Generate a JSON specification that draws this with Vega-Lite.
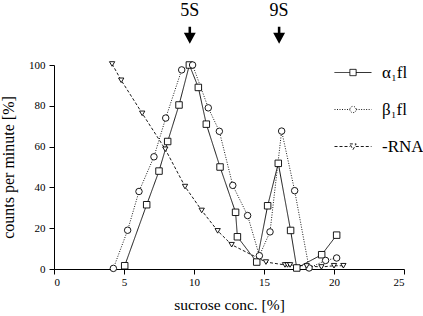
{
  "$schema": "https://vega.github.io/schema/vega-lite/v6.json",
  "width": 350,
  "height": 204,
  "autosize": {"type": "none"},
  "padding": {"left": 54, "top": 65, "right": 19, "bottom": 47},
  "background": "white",
  "config": {
    "view": {"stroke": null},
    "font": "Liberation Serif",
    "axis": {
      "grid": false,
      "domainColor": "black",
      "domainWidth": 1,
      "tickColor": "black",
      "tickWidth": 1,
      "tickSize": 5,
      "labelFont": "Liberation Serif",
      "labelFontSize": 11,
      "labelColor": "black",
      "titleFont": "Liberation Serif",
      "titleFontSize": 16,
      "titleFontWeight": "normal",
      "titleColor": "black"
    }
  },
  "datasets": {
    "series": [
      {"series": "α₁fl", "x": 5.05, "y": 1.6},
      {"series": "α₁fl", "x": 6.62, "y": 31.5},
      {"series": "α₁fl", "x": 7.5, "y": 48},
      {"series": "α₁fl", "x": 8.12, "y": 62.5},
      {"series": "α₁fl", "x": 8.93, "y": 80.4},
      {"series": "α₁fl", "x": 9.67, "y": 100},
      {"series": "α₁fl", "x": 10.31, "y": 89},
      {"series": "α₁fl", "x": 10.88, "y": 71},
      {"series": "α₁fl", "x": 11.86, "y": 50},
      {"series": "α₁fl", "x": 12.97, "y": 27.8},
      {"series": "α₁fl", "x": 13.1, "y": 15.8},
      {"series": "α₁fl", "x": 14.48, "y": 3.4},
      {"series": "α₁fl", "x": 15.26, "y": 31},
      {"series": "α₁fl", "x": 16.02, "y": 51.8},
      {"series": "α₁fl", "x": 16.9, "y": 18.9},
      {"series": "α₁fl", "x": 17.34, "y": 0.5},
      {"series": "α₁fl", "x": 19.12, "y": 7},
      {"series": "α₁fl", "x": 20.19, "y": 16.6},
      {"series": "β₁fl", "x": 4.24, "y": 0.3},
      {"series": "β₁fl", "x": 5.26, "y": 19},
      {"series": "β₁fl", "x": 6.07, "y": 38},
      {"series": "β₁fl", "x": 7.14, "y": 55},
      {"series": "β₁fl", "x": 7.98, "y": 74},
      {"series": "β₁fl", "x": 9.12, "y": 97.6},
      {"series": "β₁fl", "x": 9.9, "y": 100},
      {"series": "β₁fl", "x": 11.02, "y": 79},
      {"series": "β₁fl", "x": 11.81, "y": 67.5},
      {"series": "β₁fl", "x": 12.77, "y": 41},
      {"series": "β₁fl", "x": 13.83, "y": 26.2},
      {"series": "β₁fl", "x": 14.67, "y": 6.5},
      {"series": "β₁fl", "x": 15.43, "y": 18.2},
      {"series": "β₁fl", "x": 16.26, "y": 67.6},
      {"series": "β₁fl", "x": 17.19, "y": 38.4},
      {"series": "β₁fl", "x": 18.22, "y": 0.5},
      {"series": "β₁fl", "x": 19.4, "y": 4.2},
      {"series": "β₁fl", "x": 20.19, "y": 5.4},
      {"series": "-RNA", "x": 4.15, "y": 100.5},
      {"series": "-RNA", "x": 4.8, "y": 92.5},
      {"series": "-RNA", "x": 6.3, "y": 76.3},
      {"series": "-RNA", "x": 7.95, "y": 58.7},
      {"series": "-RNA", "x": 9.36, "y": 40.4},
      {"series": "-RNA", "x": 10.55, "y": 28.7},
      {"series": "-RNA", "x": 11.69, "y": 18.7},
      {"series": "-RNA", "x": 12.69, "y": 11.9},
      {"series": "-RNA", "x": 15.14, "y": 3.4},
      {"series": "-RNA", "x": 16.5, "y": 2},
      {"series": "-RNA", "x": 16.68, "y": 2},
      {"series": "-RNA", "x": 16.86, "y": 2},
      {"series": "-RNA", "x": 18.05, "y": 1.5},
      {"series": "-RNA", "x": 19.1, "y": 1},
      {"series": "-RNA", "x": 20.0, "y": 1.6},
      {"series": "-RNA", "x": 20.67, "y": 1.6}
    ],
    "notes": [
      {"label": "5S", "x": 9.7, "ty": 123.8, "ay": 114.6},
      {"label": "9S", "x": 16.08, "ty": 123.8, "ay": 114.6}
    ]
  },
  "layer": [
    {
      "data": {"name": "series"},
      "mark": {"type": "line", "stroke": "black", "strokeWidth": 0.9},
      "encoding": {
        "x": {
          "field": "x", "type": "quantitative",
          "scale": {"domain": [0, 25], "nice": false, "zero": false},
          "axis": {"title": "sucrose conc. [%]", "values": [0, 5, 10, 15, 20, 25], "format": "d", "labelPadding": 2, "titlePadding": 10, "titleFontSize": 15.5}
        },
        "y": {
          "field": "y", "type": "quantitative",
          "scale": {"domain": [0, 100], "nice": false},
          "axis": {"title": "counts per minute [%]", "values": [0, 20, 40, 60, 80, 100], "format": "d", "labelPadding": 4, "titlePadding": 12}
        },
        "strokeDash": {
          "field": "series", "type": "nominal",
          "scale": {"domain": ["α₁fl", "β₁fl", "-RNA"], "range": [[1, 0], [1, 1.5], [3, 2]]},
          "legend": {
            "orient": "none",
            "legendX": 280,
            "legendY": -11.5,
            "title": null,
            "padding": 0,
            "rowPadding": 10,
            "symbolSize": 1369,
            "symbolStrokeColor": "black",
            "symbolStrokeWidth": 0.9,
            "symbolFillColor": "white",
            "labelFont": "Liberation Serif",
            "labelFontSize": 17,
            "labelOffset": 10,
            "labelColor": "black",
            "encode": {
              "symbols": {
                "update": {
                  "shape": {"signal": "datum.value === 'α₁fl' ? 'M-1,0H-0.17M0.17,0H1M-0.17,-0.17H0.17V0.17H-0.17Z' : (datum.value === 'β₁fl' ? 'M-1,0H-0.17M0.17,0H1M-0.17,0A0.17,0.17 0 1,0 0.17,0A0.17,0.17 0 1,0 -0.17,0Z' : 'M-1,0H-0.15M0.15,0H1M-0.17,-0.14H0.17L0,0.17Z')"},
                  "size": {"value": 1369},
                  "fill": {"value": "white"},
                  "stroke": {"value": "black"}
                }
              }
            }
          }
        }
      }
    },
    {
      "data": {"name": "series"},
      "transform": [{"filter": "datum.series === 'α₁fl'"}],
      "mark": {"type": "point", "shape": "square", "size": 42, "filled": true, "fill": "white", "stroke": "black", "strokeWidth": 0.9, "opacity": 1},
      "encoding": {
        "x": {"field": "x", "type": "quantitative", "scale": {"domain": [0, 25], "nice": false, "zero": false}},
        "y": {"field": "y", "type": "quantitative", "scale": {"domain": [0, 100], "nice": false}}
      }
    },
    {
      "data": {"name": "series"},
      "transform": [{"filter": "datum.series === 'β₁fl'"}],
      "mark": {"type": "point", "shape": "circle", "size": 42, "filled": true, "fill": "white", "stroke": "black", "strokeWidth": 0.9, "opacity": 1},
      "encoding": {
        "x": {"field": "x", "type": "quantitative", "scale": {"domain": [0, 25], "nice": false, "zero": false}},
        "y": {"field": "y", "type": "quantitative", "scale": {"domain": [0, 100], "nice": false}}
      }
    },
    {
      "data": {"name": "series"},
      "transform": [{"filter": "datum.series === '-RNA'"}],
      "mark": {"type": "point", "shape": "triangle-down", "size": 28, "filled": true, "fill": "white", "stroke": "black", "strokeWidth": 0.9, "opacity": 1},
      "encoding": {
        "x": {"field": "x", "type": "quantitative", "scale": {"domain": [0, 25], "nice": false, "zero": false}},
        "y": {"field": "y", "type": "quantitative", "scale": {"domain": [0, 100], "nice": false}}
      }
    },
    {
      "data": {"name": "notes"},
      "mark": {"type": "text", "font": "Liberation Serif", "fontSize": 18, "baseline": "alphabetic", "align": "center", "color": "black"},
      "encoding": {
        "x": {"field": "x", "type": "quantitative", "scale": {"domain": [0, 25], "nice": false, "zero": false}},
        "y": {"field": "ty", "type": "quantitative", "scale": {"domain": [0, 100], "nice": false}},
        "text": {"field": "label"}
      }
    },
    {
      "data": {"name": "notes"},
      "mark": {"type": "point", "shape": "M-0.15,-1H0.15V-0.3H0.7L0,1L-0.7,-0.3H-0.15Z", "filled": true, "fill": "black", "strokeWidth": 0, "size": 289, "opacity": 1},
      "encoding": {
        "x": {"field": "x", "type": "quantitative", "scale": {"domain": [0, 25], "nice": false, "zero": false}},
        "y": {"field": "ay", "type": "quantitative", "scale": {"domain": [0, 100], "nice": false}}
      }
    }
  ]
}
